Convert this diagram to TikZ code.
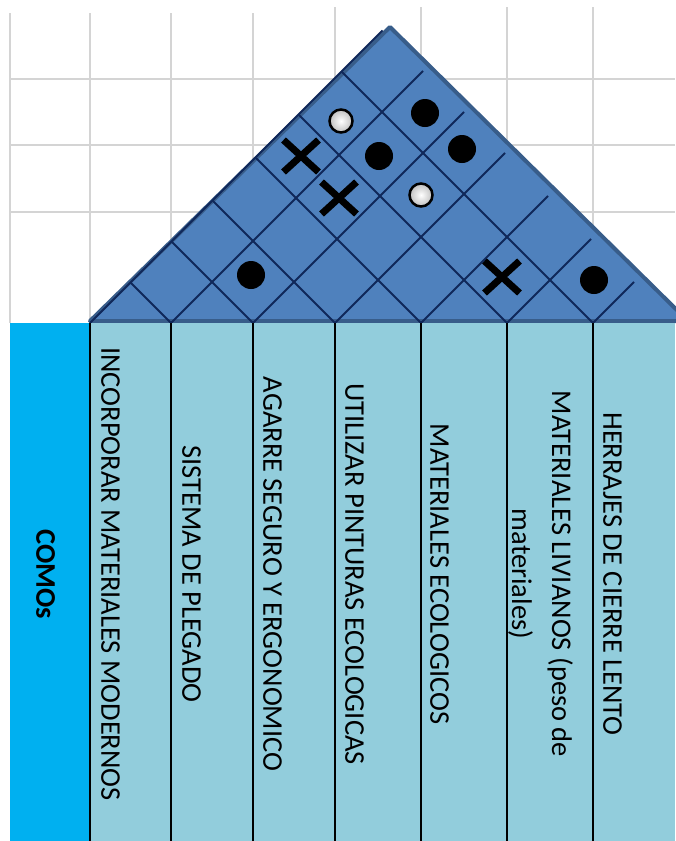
\documentclass[tikz,border=0pt]{standalone}
\usepackage{fontspec}
\setmainfont{Carlito}
\usetikzlibrary{positioning, shapes.misc}

\definecolor{roofblue}{HTML}{4F81BD}
\definecolor{roofedge}{HTML}{385D8A}
\definecolor{roofline}{HTML}{10285A}
\definecolor{cellblue}{HTML}{92CDDC}
\definecolor{comosblue}{HTML}{00B0F0}
\definecolor{sheetgrid}{HTML}{D4D4D4}

\tikzset{
    sheetline/.style={draw=sheetgrid, line width=2pt},
    roofgrid/.style={draw=roofline, line width=1.8pt},
    colline/.style={draw=black, line width=2pt},
    howtext/.style={rotate=-90, anchor=south, inner sep=0pt, align=center,
        font=\fontsize{28.5}{40}\selectfont},
    strongdot/.style={circle, fill=black, minimum size=28pt, inner sep=0pt},
    mediumdot/.style={circle, draw=black, line width=2.5pt, inner color=white,
        outer color=black!25, minimum size=23pt, inner sep=0pt},
    negmark/.style={cross out, draw=black, line width=7pt, minimum width=28pt,
        minimum height=25pt, inner sep=0pt}
}

\begin{document}
\begin{tikzpicture}[x=1pt, y=-1pt]

    \useasboundingbox (0,0) rectangle (675,841);

    % sheet grid behind the roof
    \foreach \gx/\gy in {10/13, 90/13, 171/13, 253/13, 335/7, 421/7, 507/7, 593/7}
        \draw[sheetline] (\gx,\gy) -- (\gx,323);
    \foreach \gy in {79, 145, 212}
        \draw[sheetline] (10,\gy) -- (675,\gy);

    % roof
    \draw[fill=roofblue, draw=roofedge, line width=4pt, line join=round]
        (90,321) -- (390,27) -- (688,321) -- cycle;
    \foreach \b in {90, 171, 253, 335, 421, 507, 593}
        \draw[roofgrid] (\b,323) -- ({(\b+675)/2},{323-(675-\b)/2});
    \foreach \b in {171, 253, 335, 421, 507, 593}
        \draw[roofgrid] (\b,323) -- ({(\b+90)/2},{323-(\b-90)/2});

    % correlations
    \node[mediumdot] (r16) at (341,121) {};
    \node[strongdot] (r27) at (425,113) {};
    \node[negmark] (r15) at (301,156) {};
    \node[strongdot] (r26) at (379,156) {};
    \node[strongdot] (r37) at (462,149) {};
    \node[negmark] (r25) at (339,198) {};
    \node[mediumdot] (r36) at (421,195) {};
    \node[strongdot] (r23) at (251,275) {};
    \node[negmark] (r56) at (502,277) {};
    \node[strongdot] (r67) at (594,280) {};

    % table
    \fill[comosblue] (10,323) rectangle (90,841);
    \fill[cellblue] (90,323) rectangle (675,841);
    \foreach \b in {90, 171, 253, 335, 421, 507, 593}
        \draw[colline] (\b,323) -- (\b,841);

    \node[howtext, font=\fontsize{28.5}{40}\selectfont\bfseries] (comos) at (36,574) {COMOs};
    \node[howtext] (h1) at (101,574) {INCORPORAR MATERIALES MODERNOS};
    \node[howtext] (h2) at (182,574) {SISTEMA DE PLEGADO};
    \node[howtext] (h3) at (263,574) {AGARRE SEGURO Y ERGONOMICO};
    \node[howtext] (h4) at (345,574) {UTILIZAR PINTURAS ECOLOGICAS};
    \node[howtext] (h5) at (430,574) {MATERIALES ECOLOGICOS};
    \node[howtext] (h6) at (508,574) {MATERIALES LIVIANOS (peso de\\materiales)};
    \node[howtext] (h7) at (603,574) {HERRAJES DE CIERRE LENTO};

\end{tikzpicture}
\end{document}
